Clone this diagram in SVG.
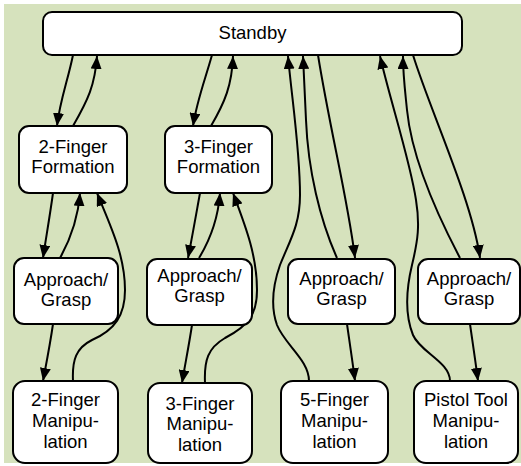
<svg xmlns="http://www.w3.org/2000/svg" width="521" height="466" viewBox="0 0 521 466">
<style>
.n rect{fill:#fff;stroke:#000;stroke-width:2}
.n text{font-family:"Liberation Sans",Arial,sans-serif;font-size:18.5px;fill:#000;text-anchor:middle}
#edges path{fill:none;stroke:#000;stroke-width:2;marker-end:url(#ah)}
</style>
<defs>
<marker id="ah" viewBox="0 0 13 11" refX="13" refY="5.5" markerWidth="13" markerHeight="11" markerUnits="userSpaceOnUse" orient="auto">
<path d="M0,0 L13,5.5 L0,11 z" fill="#000"/>
</marker>
</defs>
<rect x="4" y="4" width="517" height="459" fill="#d6e2bd"/>
<g id="edges">
<path d="M73,55 C68,80 60,100 57,126"/>
<path d="M73,126 C88,100 95,85 97,56"/>
<path d="M212,55 C205,80 197,100 193,126"/>
<path d="M211,126 C225,102 232,85 233,56"/>
<path d="M318,55 C330,130 348,200 355,258"/>
<path d="M337,258 C320,220 308,170 306,120 C305,95 304,75 303,56"/>
<path d="M309,381 C309,360 285,345 277,325 C270,305 273,285 280,265 C290,240 300,225 300,195 C300,150 292,100 288,56"/>
<path d="M413,55 C430,110 472,200 480,258"/>
<path d="M460,258 C440,220 412,160 407,110 C405,90 403,75 403,56"/>
<path d="M450,381 C450,362 420,352 413,335 C405,315 406,290 412,265 C418,240 420,225 416,200 C410,160 390,100 380,56"/>
<path d="M53,193 C50,215 46,238 43,258"/>
<path d="M60,258 C70,240 78,220 80,193"/>
<path d="M73,381 C72,360 76,348 92,340 C115,330 125,315 125,290 C125,255 110,225 97,193"/>
<path d="M53,324 C50,345 46,365 43,381"/>
<path d="M200,193 C196,215 192,238 188,258"/>
<path d="M199,258 C210,240 218,220 220,193"/>
<path d="M205,383 C204,360 208,348 225,338 C248,326 257,315 257,290 C257,255 245,225 233,193"/>
<path d="M192,325 C189,345 185,365 182,383"/>
<path d="M347,324 C350,345 353,365 355,381"/>
<path d="M470,324 C473,345 476,365 478,381"/>
</g>
<g id="standby" class="n"><rect x="43" y="12" width="419" height="43" rx="9"/><text x="252.5" y="39">Standby</text></g>
<g id="f2" class="n"><rect x="19" y="126" width="108" height="67" rx="10"/><text x="73" y="153">2-Finger</text><text x="73" y="173">Formation</text></g>
<g id="f3" class="n"><rect x="165" y="126" width="107" height="67" rx="10"/><text x="218.5" y="153">3-Finger</text><text x="218.5" y="173">Formation</text></g>
<g id="ag1" class="n"><rect x="14" y="258" width="104" height="66" rx="10"/><text x="66" y="286">Approach/</text><text x="66" y="306">Grasp</text></g>
<g id="ag2" class="n"><rect x="147" y="259" width="105" height="66" rx="10"/><text x="199.5" y="282">Approach/</text><text x="199.5" y="302">Grasp</text></g>
<g id="ag3" class="n"><rect x="288" y="259" width="107" height="65" rx="10"/><text x="341.5" y="285">Approach/</text><text x="341.5" y="305">Grasp</text></g>
<g id="ag4" class="n"><rect x="418" y="259" width="102" height="65" rx="10"/><text x="469" y="285">Approach/</text><text x="469" y="305">Grasp</text></g>
<g id="m2" class="n"><rect x="13" y="381" width="105" height="82" rx="12"/><text x="65.5" y="406">2-Finger</text><text x="65.5" y="427">Manipu-</text><text x="65.5" y="448">lation</text></g>
<g id="m3" class="n"><rect x="148" y="383" width="104" height="80" rx="12"/><text x="200" y="410">3-Finger</text><text x="200" y="430">Manipu-</text><text x="200" y="451">lation</text></g>
<g id="m5" class="n"><rect x="281" y="381" width="107" height="82" rx="12"/><text x="334.5" y="406">5-Finger</text><text x="334.5" y="427">Manipu-</text><text x="334.5" y="448">lation</text></g>
<g id="mp" class="n"><rect x="414" y="381" width="104" height="82" rx="12"/><text x="466" y="406">Pistol Tool</text><text x="466" y="427">Manipu-</text><text x="466" y="448">lation</text></g>
</svg>
